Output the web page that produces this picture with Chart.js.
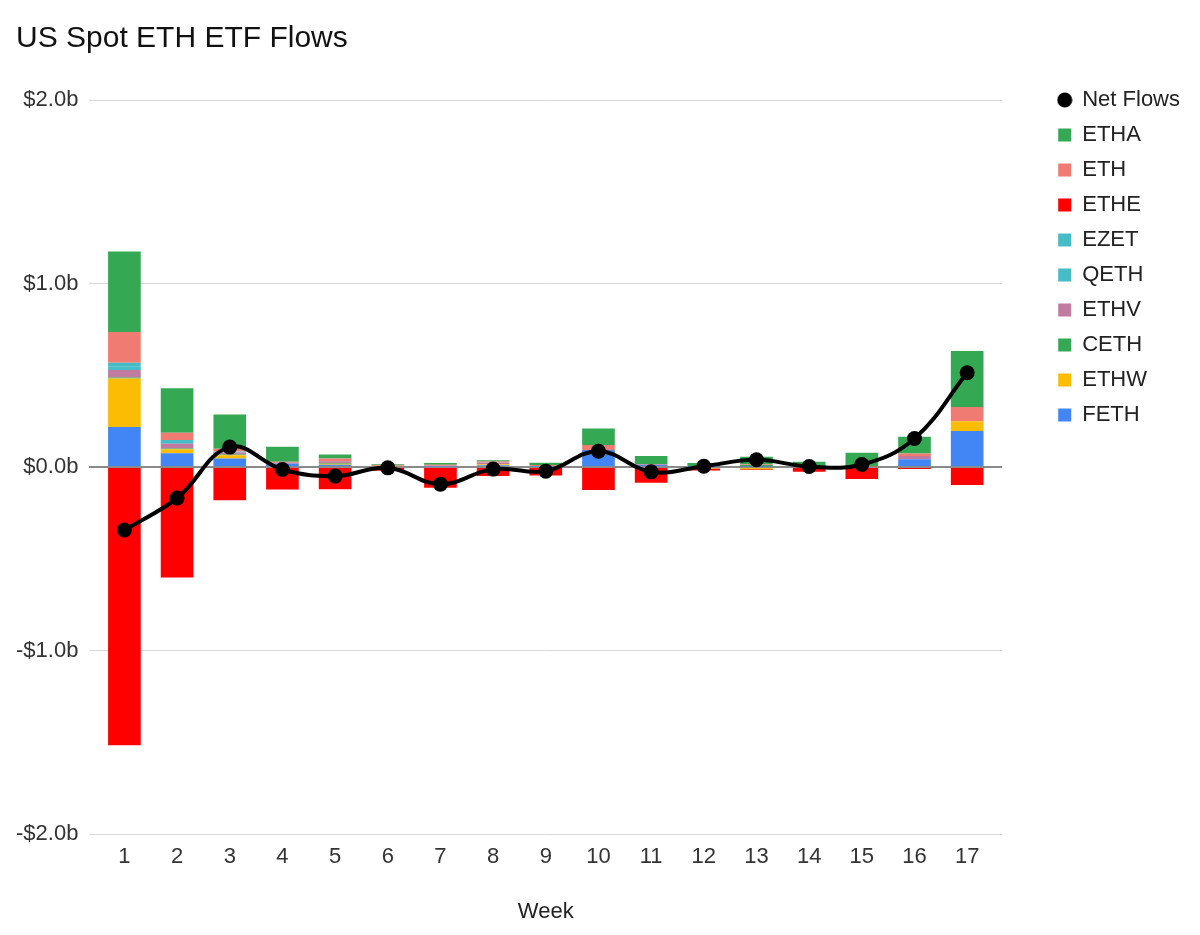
<!DOCTYPE html>
<html>
<head>
<meta charset="utf-8">
<script src="https://cdn.jsdelivr.net/npm/chart.js@4.4.1/dist/chart.umd.min.js"></script>
<style>
  html, body { margin: 0; padding: 0; background: #fff; }
  #wrap { width: 1200px; height: 935px; position: relative; }
</style>
</head>
<body>
<div id="wrap"><canvas id="flowChart"></canvas></div>
<script>
// Semaines
const weeks = ['1', '2', '3', '4', '5', '6', '7', '8', '9', '10', '11', '12', '13', '14', '15', '16', '17']

// Flux par ETF (milliards USD)
const feth = [0.218, 0.075, 0.047, 0.02, 0.013, 0, 0.003, 0.01, 0.002, 0.093, 0.012, 0.002, 0.003, 0, 0, 0.043, 0.196]
const ethw = [0.265, 0.022, 0.018, 0, 0.005, 0, 0, 0.005, 0.004, 0, 0, -0.008, -0.012, 0, 0, 0, 0.054]
const ceth = [0.005, 0.005, 0.003, 0, 0.004, 0, 0, 0, 0, 0, 0, 0, 0.008, 0, 0, 0, 0]
const ethv = [0.041, 0.025, 0.012, 0.004, 0.01, 0.004, 0.004, 0.01, 0, 0, 0.003, 0, 0, 0, 0, 0.018, 0]
const qeth = [0.02, 0.01, 0.003, 0, 0, 0, 0, 0, 0, 0, 0, 0, 0, 0, 0, 0, 0]
const ezet = [0.02, 0.01, 0.002, 0, 0, 0, 0, 0, 0, 0, 0, 0, 0, 0, 0, 0, 0]
const ethe = [-1.515, -0.601, -0.18, -0.122, -0.12, -0.02, -0.113, -0.049, -0.046, -0.125, -0.085, -0.01, -0.004, -0.025, -0.065, -0.01, -0.098]
const eth = [0.167, 0.04, 0.015, 0.005, 0.015, 0.006, 0.006, 0.005, 0.006, 0.027, 0, 0.003, 0.005, 0.005, 0.003, 0.013, 0.078]
const etha = [0.438, 0.243, 0.187, 0.082, 0.022, 0.006, 0.01, 0.008, 0.012, 0.09, 0.045, 0.018, 0.04, 0.024, 0.075, 0.091, 0.304]

// Flux nets
const netFlows = [-0.343, -0.169, 0.109, -0.013, -0.049, -0.004, -0.093, -0.011, -0.022, 0.087, -0.026, 0.005, 0.04, 0.003, 0.014, 0.156, 0.514]

// Graduations de l'axe Y
const yTicks = [-2, -1, 0, 1, 2]

const legendOrder = ['Net Flows', 'ETHA', 'ETH', 'ETHE', 'EZET', 'QETH', 'ETHV', 'CETH', 'ETHW', 'FETH']

const FONT = "'Liberation Sans', Arial, sans-serif"

// point noir pour la légende "Net Flows"
const dot = document.createElement('canvas')
dot.width = 16
dot.height = 16
const dctx = dot.getContext('2d')
dctx.fillStyle = '#000'
dctx.beginPath()
dctx.arc(8, 8, 7.5, 0, Math.PI * 2)
dctx.fill()

function barSet(label, data, color) {
  return {
    type: 'bar',
    label: label,
    data: data,
    backgroundColor: color,
    borderWidth: 0,
    pointStyle: 'rect',
    order: 1,
  }
}

// place la légende et le titre comme sur l'original
const layoutTweak = {
  id: 'layoutTweak',
  afterLayout(chart) {
    const lg = chart.legend
    const pad = lg.options.labels.padding
    const w = lg.width
    lg.left = chart.chartArea.right + 56 - pad
    lg.right = lg.left + w
    lg.top = chart.chartArea.top - pad - 11
    const tb = chart.titleBlock
    const tw = tb.width
    tb.left = 16
    tb.right = 16 + tw
  },
}

const ctx = document.getElementById('flowChart')
new Chart(ctx, {
  data: {
    labels: weeks,
    datasets: [
      barSet('FETH', feth, '#4285f4'),
      barSet('ETHW', ethw, '#fbbc04'),
      barSet('CETH', ceth, '#34a853'),
      barSet('ETHV', ethv, '#c27ba0'),
      barSet('QETH', qeth, '#46bdc6'),
      barSet('EZET', ezet, '#46bdc6'),
      barSet('ETHE', ethe, '#ff0000'),
      barSet('ETH', eth, '#f07b72'),
      barSet('ETHA', etha, '#34a853'),
      {
        type: 'line',
        label: 'Net Flows',
        data: netFlows,
        stack: 'net',
        order: 0,
        borderColor: '#000',
        backgroundColor: '#000',
        borderWidth: 4,
        tension: 0.4,
        pointRadius: 7.5,
        pointBorderWidth: 0,
        pointBackgroundColor: '#000',
        pointStyle: 'circle',
      },
    ],
  },
  options: {
    responsive: true,
    maintainAspectRatio: false,
    animation: false,
    categoryPercentage: 1,
    barPercentage: 0.62,
    layout: { padding: { left: 5, right: 53, top: 0, bottom: 0 } },
    scales: {
      x: {
        type: 'linear',
        stacked: true,
        offset: false,
        min: 0.335,
        max: 17.665,
        afterBuildTicks: (axis) => {
          axis.ticks = weeks.map((w) => ({ value: Number(w) }))
        },
        grid: { display: false },
        border: { display: false },
        ticks: { color: '#333', font: { family: FONT, size: 22 }, padding: 2, maxRotation: 0 },
        title: {
          display: true,
          text: 'Week',
          color: '#222',
          font: { family: FONT, size: 22 },
          padding: { top: 26, bottom: 10 },
        },
      },
      y: {
        stacked: true,
        min: -2,
        max: 2,
        afterBuildTicks: (axis) => {
          axis.ticks = yTicks.map((v) => ({ value: v }))
        },
        border: { display: false },
        grid: {
          drawTicks: false,
          color: (c) => (c.tick && c.tick.value === 0 ? '#8a8a8a' : '#d9d9d9'),
          lineWidth: (c) => (c.tick && c.tick.value === 0 ? 2 : 1),
        },
        ticks: {
          color: '#333',
          font: { family: FONT, size: 22 },
          padding: 11,
          callback: (v) => (v < 0 ? '-$' : '$') + Math.abs(v).toFixed(1) + 'b',
        },
      },
    },
    plugins: {
      title: {
        display: true,
        text: 'US Spot ETH ETF Flows',
        align: 'start',
        color: '#111',
        font: { family: FONT, size: 30, weight: 'normal' },
        padding: { top: 21, bottom: 43 },
      },
      legend: {
        display: true,
        position: 'right',
        align: 'start',
        fullSize: false,
        labels: {
          usePointStyle: true,
          boxWidth: 13,
          boxHeight: 13,
          padding: 13,
          color: '#222',
          font: { family: FONT, size: 22 },
          sort: (a, b) => legendOrder.indexOf(a.text) - legendOrder.indexOf(b.text),
          generateLabels: (chart) => {
            const items = Chart.defaults.plugins.legend.labels.generateLabels(chart)
            items.forEach((it) => {
              if (it.text === 'Net Flows') it.pointStyle = dot
              it.lineWidth = 0
            })
            return items
          },
        },
      },
      tooltip: { enabled: false },
    },
  },
  plugins: [layoutTweak],
})
</script>
</body>
</html>
